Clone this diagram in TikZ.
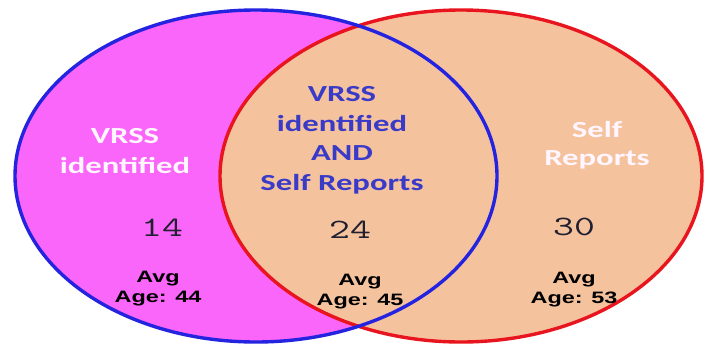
\documentclass[tikz,border=0pt]{standalone}
\usepackage{fontspec}
\newfontfamily\labfont[FakeStretch=1.42]{Carlito}
\newfontfamily\agefont[FakeStretch=1.42]{Liberation Sans}
\definecolor{vmag}{HTML}{FA66FA}
\definecolor{vpeach}{HTML}{F5C29E}
\definecolor{vblue}{HTML}{2424E0}
\definecolor{vred}{HTML}{E8141E}
\definecolor{vtext}{HTML}{3A3AC8}
\definecolor{vwhite}{HTML}{FFF6FF}
\definecolor{vnum}{HTML}{202030}
\newcommand{\vnumber}[1]{\scalebox{1.45}[1]{#1}}
\begin{document}
\begin{tikzpicture}[x=1pt,y=-1pt,
  lab/.style={font=\labfont\bfseries\fontsize{23}{29.5}\selectfont, align=center, anchor=base, inner sep=0pt},
  agelab/.style={font=\agefont\bfseries\fontsize{16.5}{20}\selectfont, align=center, anchor=base, inner sep=0pt, text=black},
  numlab/.style={font=\ttfamily\fontsize{28}{30}\selectfont, anchor=center, inner sep=0pt, text=vnum},
  ring/.style={line width=3.4pt}]
\useasboundingbox[fill=white] (0,0) rectangle (706,346);
% fills
\fill[vmag] (256,176) ellipse [x radius=241, y radius=166];
\fill[vpeach] (461,176) ellipse [x radius=241, y radius=166];
% outlines
\draw[ring, vred] (461,176) ellipse [x radius=241, y radius=166];
\draw[ring, vblue] (256,176) ellipse [x radius=241, y radius=166];
% labels (anchor base = baseline of last line)
\node[lab, text=vwhite] (vrss) at (125,173) {VRSS\\identified};
\node[lab, text=vtext] (both) at (342,190) {VRSS\\identified\\AND\\Self Reports};
\node[lab, text=vwhite, font=\labfont\bfseries\fontsize{23}{27.5}\selectfont] (self) at (597,165) {Self\\Reports};
% numbers
\node[numlab] (n14) at (162,228) {\vnumber{14}};
\node[numlab] (n24) at (350,230) {\vnumber{24}};
\node[numlab] (n30) at (574,227) {\vnumber{30}};
% ages
\node[agelab] (a44) at (158,302) {Avg\\Age: 44};
\node[agelab] (a45) at (360,305) {Avg\\Age: 45};
\node[agelab] (a53) at (574,303) {Avg\\Age: 53};
\end{tikzpicture}
\end{document}
